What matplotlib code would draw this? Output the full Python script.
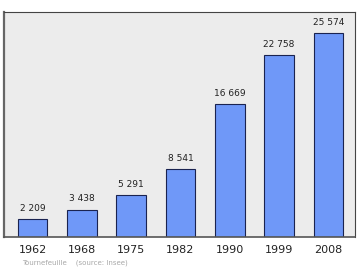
import matplotlib
matplotlib.use("Agg")
import matplotlib.pyplot as plt
import numpy as np

# population data
years = ["1962", "1968", "1975", "1982", "1990", "1999", "2008"]
population = [2209, 3438, 5291, 8541, 16669, 22758, 25574]
value_labels = ["2 209", "3 438", "5 291", "8 541", "16 669", "22 758", "25 574"]

fig = plt.figure(figsize=(3.6, 2.7), dpi=100)
ax = fig.add_axes([4 / 360, 33 / 270, 351 / 360, 225 / 270])
ax.set_facecolor("#ececec")

x = np.arange(len(years))
ax.bar(x, population, width=0.6, color="#6f98f8", edgecolor="#1a2350", linewidth=0.8, zorder=2)

for xi, v, lab in zip(x, population, value_labels):
    ax.annotate(lab, (xi, v), xytext=(0, 4.5), textcoords="offset points",
                ha="center", va="bottom", fontsize=6.5, color="#222222")

ax.set_xlim(-0.58, 6.54)
ax.set_ylim(0, 28200)
ax.set_xticks(x)
ax.set_xticklabels(years, fontsize=8, color="#222222")
ax.tick_params(axis="x", length=0, pad=6)
ax.set_yticks([])

for side in ["top", "right"]:
    ax.spines[side].set_color("#444444")
    ax.spines[side].set_linewidth(0.8)
ax.spines["left"].set_color("#666666")
ax.spines["left"].set_linewidth(1.6)
ax.spines["bottom"].set_color("#555555")
ax.spines["bottom"].set_linewidth(1.2)

fig.text(22 / 360, 1 - 263 / 270, "Tournefeuille    (source: Insee)",
         fontsize=5, color="#a8a8a8", va="center", ha="left")

fig.savefig("out.png", dpi=100)
